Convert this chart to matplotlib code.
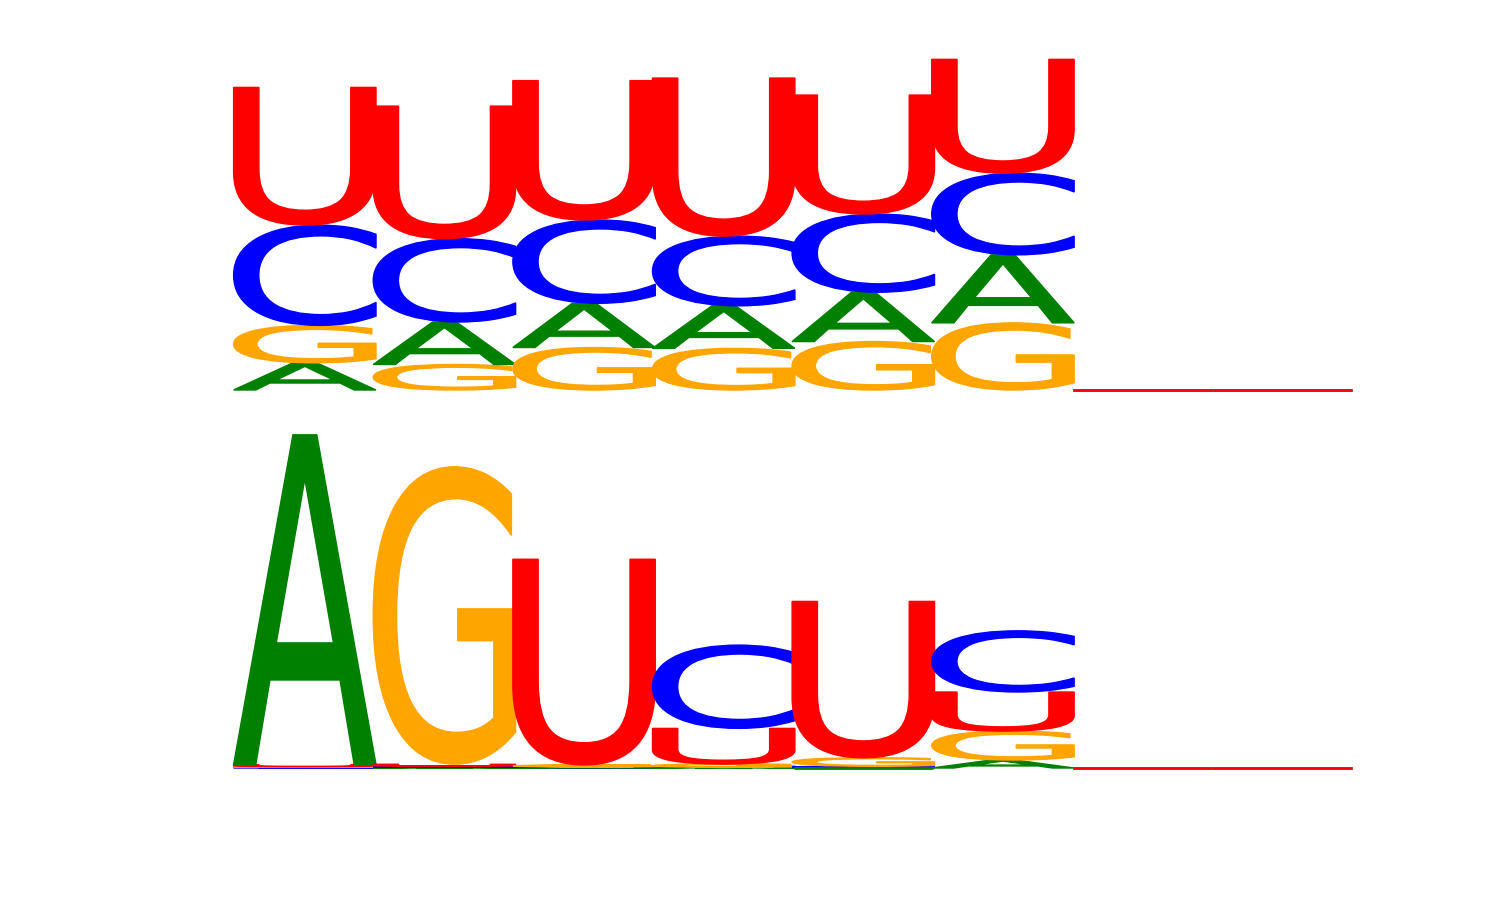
import numpy as np
import matplotlib
matplotlib.use("Agg")
import matplotlib.pyplot as plt
from matplotlib.textpath import TextPath
from matplotlib.patches import PathPatch
from matplotlib.font_manager import FontProperties
from matplotlib.transforms import Affine2D

# letter heights in bits, one list per position (order A, C, G, U)
letters = ["A", "C", "G", "U"]
colors = {"A": "#008000", "C": "#0000FF", "G": "#FFA500", "U": "#FF0000"}

top_A = [0.16, 0.25, 0.26, 0.25, 0.29, 0.40, 0.0, 0.0]
top_C = [0.59, 0.49, 0.49, 0.41, 0.46, 0.48, 0.0, 0.0]
top_G = [0.22, 0.15, 0.25, 0.245, 0.285, 0.395, 0.0, 0.0]
top_U = [0.81, 0.78, 0.82, 0.93, 0.70, 0.67, 0.0, 0.0]

bot_A = [1.94, 0.004, 0.003, 0.005, 0.0, 0.047, 0.0, 0.0]
bot_C = [0.004, 0.006, 0.003, 0.49, 0.01, 0.36, 0.0, 0.0]
bot_G = [0.004, 1.75, 0.012, 0.018, 0.05, 0.17, 0.0, 0.0]
bot_U = [0.012, 0.012, 1.21, 0.21, 0.92, 0.23, 0.0, 0.0]

font = FontProperties(family="DejaVu Sans")
glyphs = {}
for l in letters:
    glyphs[l] = TextPath((0, 0), l, size=1, prop=font)


def draw_letter(ax, l, x, y0, h, w=1.02):
    if h <= 0:
        ax.plot([x - 0.5, x + 0.5], [y0, y0], color=colors[l], lw=2,
                solid_capstyle="butt", clip_on=False)
        return
    p = glyphs[l]
    ext = p.get_extents()
    sx = w / ext.width
    sy = h / ext.height
    t = Affine2D().translate(-ext.x0, -ext.y0).scale(sx, sy).translate(x - w / 2, y0)
    patch = PathPatch(t.transform_path(p), facecolor=colors[l], edgecolor=colors[l],
                      lw=1.0, clip_on=False)
    ax.add_patch(patch)


def draw_logo(ax, A, C, G, U):
    cols = {"A": A, "C": C, "G": G, "U": U}
    n = len(A)
    for i in range(n):
        vals = sorted([(cols[l][i], l) for l in letters], key=lambda v: (v[0], v[1]))
        y = 0
        for h, l in vals:
            draw_letter(ax, l, i + 1, y, h)
            y += h
    ax.set_xlim(0.5, n + 0.5)
    ax.set_ylim(0, 2)
    ax.axis("off")


fig = plt.figure(figsize=(15, 9), dpi=100)
# x: 235 -> 1352 px, 2 bits = 340 px
x0 = 235 / 1500
wd = (1352 - 235) / 1500
hgt = 340 / 900
ax1 = fig.add_axes([x0, 1 - 390 / 900, wd, hgt])
ax2 = fig.add_axes([x0, 1 - 768 / 900, wd, hgt])
for ax in (ax1, ax2):
    ax.patch.set_alpha(0)
draw_logo(ax1, top_A, top_C, top_G, top_U)
draw_logo(ax2, bot_A, bot_C, bot_G, bot_U)

fig.savefig("out.png", dpi=100)
